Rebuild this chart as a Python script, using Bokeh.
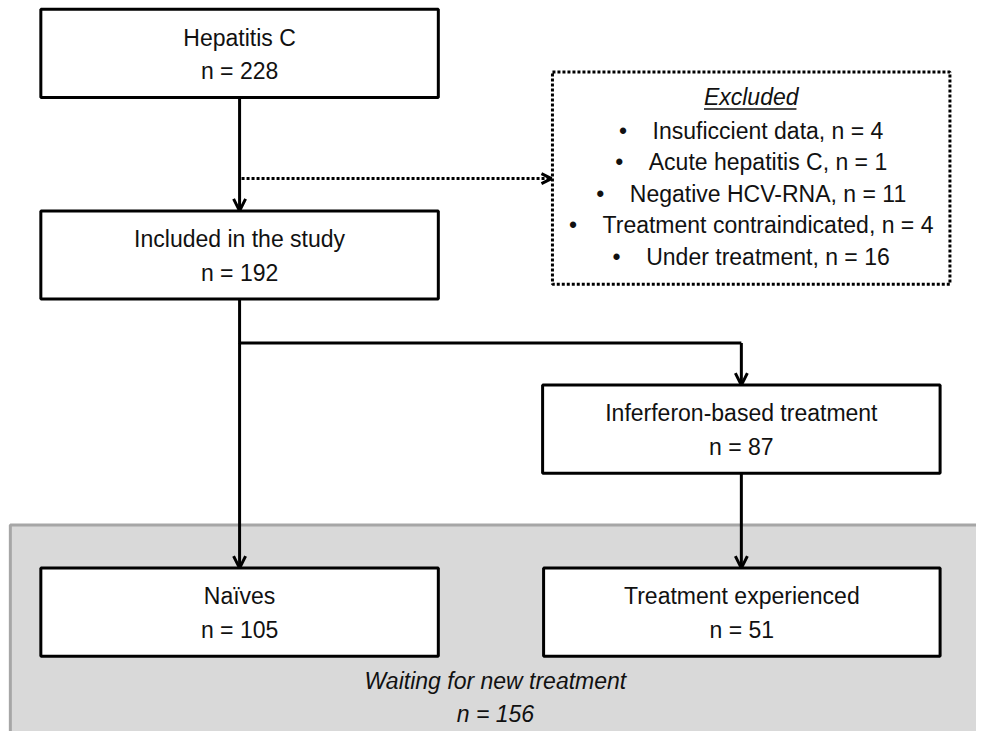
from bokeh.plotting import figure
from bokeh.models import Range1d, Arrow, OpenHead, ColumnDataSource
from bokeh.core.properties import value
from bokeh.embed import file_html
from bokeh.resources import INLINE

# ---- data ----
node_titles = ["Hepatitis C", "Included in the study", "Inferferon-based treatment",
               "Naïves", "Treatment experienced"]
node_counts = [228, 192, 87, 105, 51]
excluded_reasons = ["Insuficcient data", "Acute hepatitis C", "Negative HCV-RNA",
                    "Treatment contraindicated", "Under treatment"]
excluded_counts = [4, 1, 11, 4, 16]
waiting_label = "Waiting for new treatment"
waiting_count = 156

# ---- layout (reference pixel space) ----
node_left = [41, 41, 551, 41, 552]
node_right = [445, 445, 955, 445, 955]
node_top = [9, 215, 393, 580, 580]
node_bottom = [99, 305, 483, 670, 670]
excl_box = (561, 965, 73, 290)
panel = (10, 1010, 536, 770)

FONT = "Liberation Sans"
FS = "23px"
TXT = "#111111"

p = figure(width=976, height=731, output_backend="svg", toolbar_location=None,
           x_range=Range1d(0, 992), y_range=Range1d(747, 0),
           min_border=0, min_border_left=0, min_border_right=0,
           min_border_top=0, min_border_bottom=0)
p.axis.visible = False
p.grid.visible = False
p.outline_line_color = None
p.background_fill_color = "white"

# grey panel
p.quad(left=[panel[0]], right=[panel[1]], top=[panel[2]], bottom=[panel[3]],
       fill_color="#d9d9d9", line_color="#a6a6a6", line_width=3)

# connector lines
p.line(x=[243, 243, 753], y=[305, 350, 350], line_color="black", line_width=3)

head = dict(size=12, line_width=3, line_color="black")
arrows = [
    (243, 99, 243, 215),
    (243, 350, 243, 580),
    (753, 350, 753, 393),
    (753, 483, 753, 580),
]
for xs, ys, xe, ye in arrows:
    p.add_layout(Arrow(end=OpenHead(**head), x_start=xs, y_start=ys, x_end=xe, y_end=ye,
                       line_width=3, line_color="black"))
p.add_layout(Arrow(end=OpenHead(size=10, line_width=3, line_color="black"),
                   x_start=245, y_start=182, x_end=560, y_end=182,
                   line_width=3, line_color="black", line_dash="3 2"))

# boxes
p.quad(left=node_left, right=node_right, top=node_top, bottom=node_bottom,
       fill_color="white", line_color="black", line_width=3)
p.quad(left=[excl_box[0]], right=[excl_box[1]], top=[excl_box[2]], bottom=[excl_box[3]],
       fill_color="white", line_color="black", line_width=3, line_dash="3 2")

# node texts
cx = [(l + r) / 2 for l, r in zip(node_left, node_right)]
title_y = [t + 29 for t in node_top]
count_y = [t + 63 for t in node_top]
src = ColumnDataSource(dict(x=cx + cx, y=title_y + count_y,
                            t=node_titles + [f"n = {c}" for c in node_counts]))
p.text(x="x", y="y", text="t", source=src, text_align="center", text_baseline="middle",
       text_font=value(FONT), text_font_size=FS, text_color=TXT)

# excluded box texts
ecx = (excl_box[0] + excl_box[1]) / 2
p.text(x=[ecx], y=[99], text=["Excluded"], text_align="center", text_baseline="middle",
       text_font=value(FONT), text_font_size=FS, text_font_style="italic", text_color=TXT)
p.line(x=[715, 809], y=[111, 111], line_color=TXT, line_width=1.5)
nb = "\u00a0"
ex_y = [133 + 32.3 * i for i in range(len(excluded_reasons))]
ex_t = [f"•{nb*4}{r}, n = {c}" for r, c in zip(excluded_reasons, excluded_counts)]
p.text(x=[ecx] * len(ex_t), y=ex_y, text=ex_t, text_align="center", text_baseline="middle",
       text_font=value(FONT), text_font_size=FS, text_color=TXT)

# waiting text
p.text(x=[503, 503], y=[695, 729], text=[waiting_label, f"n = {waiting_count}"],
       text_align="center", text_baseline="middle", text_font=value(FONT),
       text_font_size=FS, text_font_style="italic", text_color=TXT)

open("out.html", "w").write(file_html(p, INLINE))
